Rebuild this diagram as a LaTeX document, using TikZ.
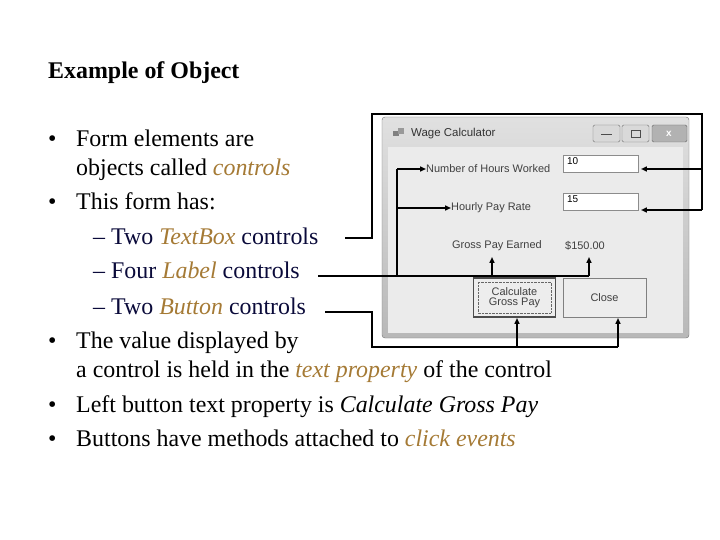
\documentclass[tikz,border=0pt]{standalone}
\usepackage{fontspec}
\setmainfont{Liberation Serif}
\newfontfamily\formfont{Liberation Sans}
\usetikzlibrary{arrows.meta}
\definecolor{acc}{HTML}{A57A35}
\definecolor{navy}{HTML}{0A0A3A}
\definecolor{winbg}{HTML}{EBEBEB}
\begin{document}
\begin{tikzpicture}[x=1bp,y=-1bp,
  body/.style={anchor=base west,inner sep=0pt,font=\fontsize{24}{24}\selectfont},
  sub/.style={body,text=navy},
  lbl/.style={anchor=west,inner sep=0pt,font=\formfont\fontsize{11}{11}\selectfont,text=black!75},
  conn/.style={line width=1.6pt},
  arr/.style={conn,-{Triangle[length=6pt,width=5pt]}},
  tbox/.style={draw=black!45,fill=white,line width=0.6pt},
  btn/.style={draw=black!50,fill=black!7,line width=0.8pt,align=center,font=\formfont\fontsize{11}{11}\selectfont,text=black!75}]
\useasboundingbox (0,0) rectangle (720,540);
\node[anchor=base west,inner sep=0pt,font=\bfseries\fontsize{24}{24}\selectfont] (title) at (48,79) {Example of Object};
% bullets
\node[body] (b1) at (48,147) {•};
\node[body] (t1) at (76,147) {Form elements are};
\node[body] (t1b) at (76,176) {objects called \textcolor{acc}{\itshape controls}};
\node[body] (b2) at (48,210) {•};
\node[body] (t2) at (76,210) {This form has:};
\node[sub] (s1) at (93,245) {–\hspace{0.25em}Two \textcolor{acc}{\itshape TextBox} controls};
\node[sub] (s2) at (93,279) {–\hspace{0.25em}Four \textcolor{acc}{\itshape Label} controls};
\node[sub] (s3) at (93,314) {–\hspace{0.25em}Two \textcolor{acc}{\itshape Button} controls};
\node[body] (b3) at (48,348) {•};
\node[body] (t3) at (76,348) {The value displayed by};
\node[body] (t3b) at (76,377) {a control is held in the \textcolor{acc}{\itshape text property} of the control};
\node[body] (b4) at (48,412) {•};
\node[body] (t4) at (76,412) {Left button text property is \textit{Calculate Gross Pay}};
\node[body] (b5) at (48,446) {•};
\node[body] (t5) at (76,446) {Buttons have methods attached to \textcolor{acc}{\itshape click events}};
% window
\shade[top color=black!12,bottom color=black!28,rounded corners=3pt,draw=black!55] (382,117) rectangle (689,338);
\fill[winbg] (388,147) rectangle (683,333);
\node[anchor=west,inner sep=0pt,font=\formfont\fontsize{11.5}{11}\selectfont,text=black!80] (wt) at (411,134) {Wage Calculator};
\fill[black!50] (393,131) rectangle (399,136);\fill[black!40] (398,128) rectangle (404,134);
\draw[black!55,fill=black!15,rounded corners=1.5pt] (593,125) rectangle (620,142);
\draw[black!55,fill=black!15,rounded corners=1.5pt] (622,125) rectangle (649,142);
\draw[black!60,fill=black!30,rounded corners=1.5pt] (652,125) rectangle (687,142);
\draw[black!70,line width=1pt] (601,135) -- (612,135);
\draw[black!70] (631,130) rectangle (640,137);
\node[font=\formfont\bfseries\fontsize{10}{10}\selectfont,text=white] at (669,133.5) {x};
\draw[tbox] (563,155) rectangle (638,172);
\draw[tbox] (563,193) rectangle (638,210);
\node[anchor=north west,inner sep=0pt,font=\formfont\fontsize{10}{10}\selectfont] (v1) at (567,157) {10};
\node[anchor=north west,inner sep=0pt,font=\formfont\fontsize{10}{10}\selectfont] (v2) at (567,195) {15};
\node[lbl] (l1) at (426,169) {Number of Hours Worked};
\node[lbl] (l2) at (451,208) {Hourly Pay Rate};
\node[lbl] (l3) at (452,246) {Gross Pay Earned};
\node[lbl] (l4) at (565,246) {\$150.00};
\node[btn,minimum width=82bp,minimum height=39bp,draw=black!70,line width=1.2pt] (bc) at (514.5,297.5) {Calculate\\[-1pt]Gross Pay};
\draw[black!60,densely dotted] (478,282) rectangle (551,313);
\node[btn,minimum width=83bp,minimum height=39bp] (bx) at (604.5,297.5) {Close};
% connectors
\coordinate (tbA) at (345,238);\coordinate (tbB) at (372,238);\coordinate (tbC) at (372,114);\coordinate (tbD) at (702,114);
\coordinate (tbE) at (702,169);\coordinate (tbF) at (702,210);
\draw[conn] (tbA) -- (tbB) -- (tbC) -- (tbD) -- (tbF);
\draw[arr] (tbF) -- (641,210);
\draw[arr] (tbE) -- (641,169);
\coordinate (lbA) at (318,276);\coordinate (lbB) at (589,276);\coordinate (lbC) at (397,276);\coordinate (lbD) at (397,169);
\coordinate (lbE) at (397,208);\coordinate (lbF) at (492,276);
\draw[conn] (lbA) -- (lbB);
\draw[conn] (lbC) -- (lbD);
\draw[arr] (lbD) -- (l1.west);
\draw[arr] (lbE) -- (l2.west);
\draw[arr] (lbF) -- (492,257);
\draw[arr] (lbB) -- (589,257);
\coordinate (btA) at (325,312);\coordinate (btB) at (372,312);\coordinate (btC) at (372,347);\coordinate (btD) at (618,347);\coordinate (btE) at (517,347);
\draw[conn] (btA) -- (btB) -- (btC) -- (btD);
\draw[arr] (btE) -- (517,318);
\draw[arr] (btD) -- (618,318);
\end{tikzpicture}
\end{document}
